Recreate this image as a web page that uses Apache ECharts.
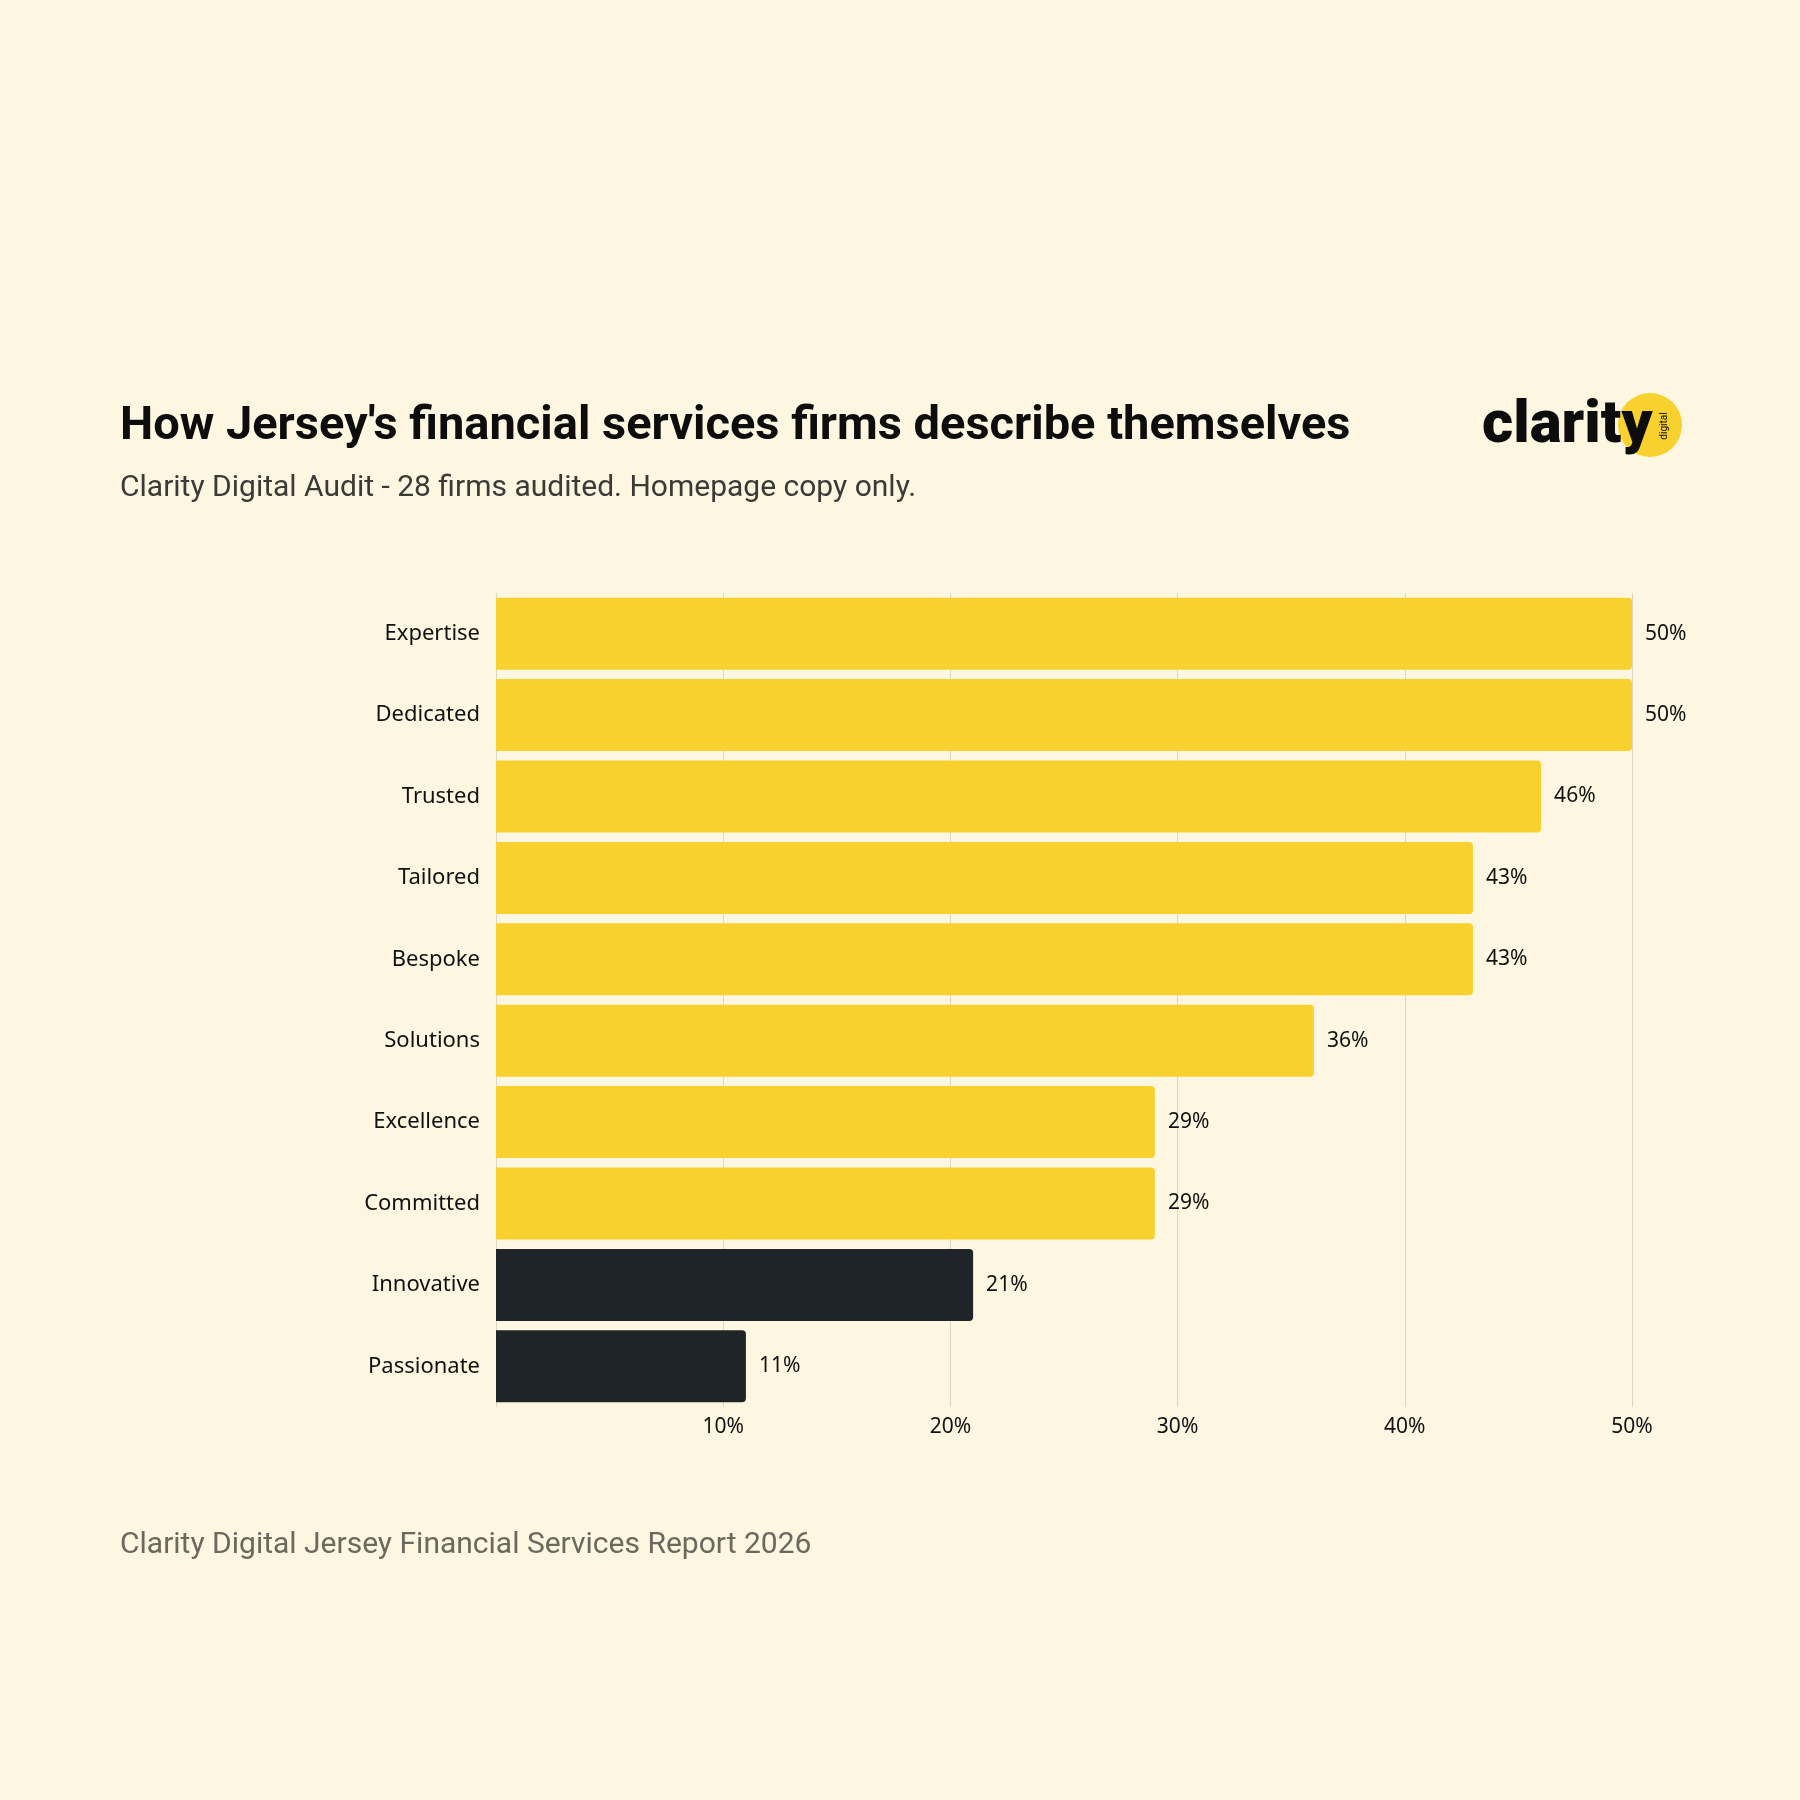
<!DOCTYPE html>
<html>
<head>
<meta charset="utf-8">
<title>How Jersey's financial services firms describe themselves</title>
<script src="https://cdn.jsdelivr.net/npm/echarts@6/dist/echarts.min.js"></script>
<style>
  html, body { margin: 0; padding: 0; background: #fdf6e1; }
  #chart { width: 1800px; height: 1800px; }
</style>
</head>
<body>
<div id="chart"></div>
<script>
// words found in homepage copy, top of chart first
var words = ['Expertise', 'Dedicated', 'Trusted', 'Tailored', 'Bespoke',
  'Solutions', 'Excellence', 'Committed', 'Innovative', 'Passionate'];
// share of the 28 firms using each word (%)
var shares = [50, 50, 46, 43, 43, 36, 29, 29, 21, 11];
// the last two are highlighted in dark
var highlighted = ['Innovative', 'Passionate'];
var xTicks = [0, 10, 20, 30, 40, 50];

var yellow = '#f9d12e';
var dark = '#1e2427';
var labelFont = 'Noto Sans';

var barData = words.map(function (w, i) {
  return {
    value: shares[i],
    itemStyle: { color: highlighted.indexOf(w) >= 0 ? dark : yellow }
  };
});

var chart = echarts.init(document.getElementById('chart'));
chart.setOption({
  backgroundColor: '#fdf6e1',
  animation: false,
  title: [{
    text: "How Jersey's financial services firms describe themselves",
    left: 120, top: 404, padding: 0,
    textStyle: { fontFamily: 'Roboto', fontWeight: 'bold', fontSize: 47, color: '#0d0d0d' }
  }, {
    text: 'Clarity Digital Audit - 28 firms audited. Homepage copy only.',
    left: 120, top: 473, padding: 0,
    textStyle: { fontFamily: 'Roboto', fontWeight: 'normal', fontSize: 30, color: '#3b3a36' }
  }, {
    text: 'Clarity Digital Jersey Financial Services Report 2026',
    left: 120, top: 1530, padding: 0,
    textStyle: { fontFamily: 'Roboto', fontWeight: 'normal', fontSize: 30, color: '#6b685d' }
  }],
  graphic: [{
    type: 'circle', shape: { cx: 1650, cy: 425, r: 32 }, style: { fill: yellow }
  }, {
    type: 'text', x: 1482, y: 427,
    style: { text: 'clarity', fontFamily: 'Roboto', fontWeight: 900, fontSize: 60,
      fill: '#0d0d0d', verticalAlign: 'middle' }
  }, {
    type: 'text', x: 1664, y: 426, rotation: Math.PI / 2,
    style: { text: 'digital', fontFamily: 'Roboto', fontSize: 10, fill: '#0d0d0d',
      align: 'center', verticalAlign: 'middle' }
  }],
  grid: { left: 496, right: 168, top: 593, bottom: 393, containLabel: false },
  xAxis: {
    type: 'value', min: xTicks[0], max: xTicks[xTicks.length - 1], interval: 10,
    axisLine: { show: false }, axisTick: { show: false },
    splitLine: { show: true, lineStyle: { color: '#dcd8c8', width: 1 } },
    axisLabel: {
      showMinLabel: false, margin: 10,
      fontFamily: labelFont, fontSize: 21, color: '#111',
      formatter: function (v) { return v + '%'; }
    }
  },
  yAxis: {
    type: 'category', data: words, inverse: true,
    axisLine: { show: false }, axisTick: { show: false },
    axisLabel: { margin: 16, fontFamily: labelFont, fontSize: 22, color: '#111' }
  },
  series: [{
    type: 'bar', data: barData, barCategoryGap: '11.5%',
    itemStyle: { borderRadius: [0, 4, 4, 0] },
    label: {
      show: true, position: 'right', distance: 13,
      fontFamily: labelFont, fontSize: 21, color: '#111',
      formatter: function (p) { return p.value + '%'; }
    }
  }]
});
</script>
</body>
</html>
